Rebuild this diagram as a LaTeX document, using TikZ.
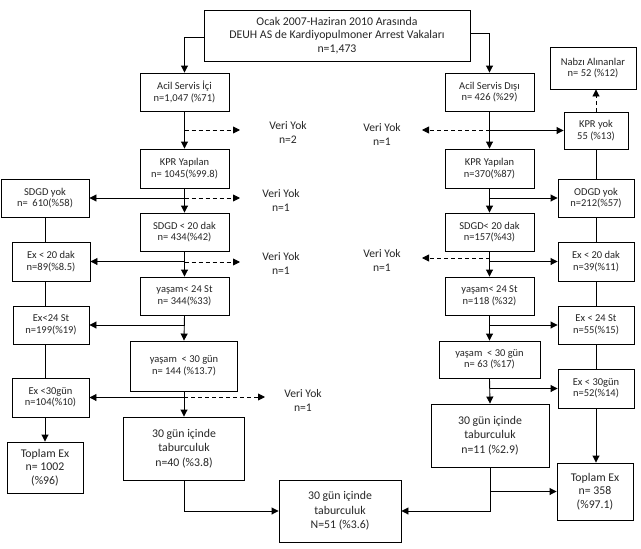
\documentclass[tikz,border=0pt]{standalone}
\usepackage{fontspec}
\setmainfont{Carlito}
\usetikzlibrary{arrows.meta,calc}
\tikzset{
  box/.style={draw=black, line width=0.9pt, fill=white, rectangle, inner sep=1pt, align=center, text=black!85},
  sm/.style={box, font=\fontsize{10.5}{11.5}\selectfont},
  bg/.style={box, font=\fontsize{11.8}{14.5}\selectfont},
  vy/.style={align=center, font=\fontsize{11.6}{14}\selectfont, text=black!85},
  arr/.style={line width=0.9pt, -{Triangle[length=7pt,width=7pt]}},
  ln/.style={line width=0.9pt},
  dsh/.style={line width=0.9pt, dash pattern=on 4pt off 3pt, -{Triangle[length=7pt,width=7pt]}}
}
\begin{document}
\begin{tikzpicture}[x=1pt,y=-1pt]
\useasboundingbox (0,0) rectangle (641,549);
% nodes
\node[bg, minimum width=266pt, minimum height=51pt, font=\fontsize{11.8}{13.6}\selectfont] (top) at (337,35.5) {Ocak 2007-Haziran 2010 Arasında\\DEUH AS de Kardiyopulmoner Arrest Vakaları\\n=1,473};
\node[sm, minimum width=89pt, minimum height=38pt] (L1) at (184.5,92) {Acil Servis İçi\\n=1,047 (\%71)};
\node[sm, minimum width=89pt, minimum height=38pt] (R1) at (489.5,92) {Acil Servis Dışı\\n= 426 (\%29)};
\node[sm, minimum width=86pt, minimum height=42pt] (nabzi) at (593,68) {Nabzı Alınanlar\\n= 52 (\%12)};
\node[sm, minimum width=64pt, minimum height=37pt] (kpryok) at (596,130.5) {KPR yok\\55 (\%13)};
\node[sm, minimum width=89pt, minimum height=39pt] (L2) at (184.5,168.5) {KPR Yapılan\\n= 1045(\%99.8)};
\node[sm, minimum width=89pt, minimum height=39pt] (R2) at (489.5,168.5) {KPR Yapılan\\n=370(\%87)};
\node[sm, minimum width=88pt, minimum height=38pt] (sdgdyok) at (45,198) {SDGD yok\\n= \ 610(\%58)};
\node[sm, minimum width=76pt, minimum height=38pt] (odgdyok) at (596,198) {ODGD yok\\n=212(\%57)};
\node[sm, minimum width=89pt, minimum height=38pt] (L3) at (184.5,232) {SDGD < 20 dak\\n= 434(\%42)};
\node[sm, minimum width=89pt, minimum height=38pt] (R3) at (489.5,232) {SDGD< 20 dak\\n=157(\%43)};
\node[sm, minimum width=78pt, minimum height=39pt] (lex20) at (51,261.5) {Ex < 20 dak\\n=89(\%8.5)};
\node[sm, minimum width=76pt, minimum height=39pt] (rex20) at (596,261.5) {Ex < 20 dak\\n=39(\%11)};
\node[sm, minimum width=89pt, minimum height=38pt] (L4) at (184.5,296) {yaşam< 24 St\\n= 344(\%33)};
\node[sm, minimum width=89pt, minimum height=38pt] (R4) at (489.5,296) {yaşam< 24 St\\n=118 (\%32)};
\node[sm, minimum width=76pt, minimum height=38pt] (lex24) at (51,325) {Ex<24 St\\n=199(\%19)};
\node[sm, minimum width=76pt, minimum height=38pt] (rex24) at (596,325) {Ex < 24 St\\n=55(\%15)};
\node[sm, minimum width=107pt, minimum height=50pt] (L5) at (184,366) {yaşam \ < 30 gün\\n= 144 (\%13.7)};
\node[sm, minimum width=101pt, minimum height=37pt] (R5) at (489.5,359.5) {yaşam \ < 30 gün\\n= 63 (\%17)};
\node[sm, minimum width=77pt, minimum height=39pt] (lex30) at (50.5,397.5) {Ex <30gün\\n=104(\%10)};
\node[sm, minimum width=76pt, minimum height=39pt] (rex30) at (596,388.5) {Ex < 30gün\\n=52(\%14)};
\node[bg, minimum width=121pt, minimum height=63pt] (L6) at (184,448.5) {30 gün içinde\\taburculuk\\n=40 (\%3.8)};
\node[bg, minimum width=118pt, minimum height=63pt] (R6) at (490,435.5) {30 gün içinde\\taburculuk\\n=11 (\%2.9)};
\node[bg, minimum width=76pt, minimum height=51pt, font=\fontsize{11.8}{13.6}\selectfont] (ltop) at (45,467.5) {Toplam Ex\\n= 1002\\(\%96)};
\node[bg, minimum width=76pt, minimum height=57pt, font=\fontsize{11.8}{13.6}\selectfont] (rtop) at (595,491.5) {Toplam Ex\\n= 358\\(\%97.1)};
\node[bg, minimum width=122pt, minimum height=62pt] (ctr) at (340,511) {30 gün içinde\\taburculuk\\N=51 (\%3.6)};
% Veri Yok labels
\node[vy] (vyl1) at (288,132) {Veri Yok\\n=2};
\node[vy] (vyr1) at (382,134) {Veri Yok\\n=1};
\node[vy] (vyl2) at (281,200) {Veri Yok\\n=1};
\node[vy] (vyl3) at (281,263) {Veri Yok\\n=1};
\node[vy] (vyr3) at (382,260) {Veri Yok\\n=1};
\node[vy] (vyl4) at (303,400) {Veri Yok\\n=1};
\coordinate (dl1) at (240,130);
\coordinate (dr1) at (422,130);
\coordinate (dl2) at (240,198);
\coordinate (dl3) at (240,262);
\coordinate (dr3) at (422,258);
\coordinate (dl4) at (265,397);
% top connectors
\draw[arr] ([yshift=-1.5pt]top.west) -| (L1.north);
\draw[arr] ([yshift=2.5pt]top.east) -| (R1.north);
% left main column
\draw[arr] (L1.south) -- (L2.north);
\draw[dsh] (L1.south |- dl1) -- (dl1);
\draw[arr] (L2.south) -- (L3.north);
\draw[arr] (L2.south |- sdgdyok.east) -- (sdgdyok.east);
\draw[dsh] (L2.south |- dl2) -- (dl2);
\draw[arr] (L3.south) -- (L4.north);
\draw[arr] (L3.south |- lex20.east) -- (lex20.east);
\draw[dsh] (L3.south |- dl3) -- (dl3);
\draw[arr] (L4.south) -- (L5.north);
\draw[arr] (L4.south |- lex24.east) -- (lex24.east);
\draw[arr] (L5.south) -- (L6.north);
\draw[arr] (L5.south |- lex30.east) -- (lex30.east);
\draw[dsh] (L5.south |- dl4) -- (dl4);
\draw[arr] (L6.south) |- (ctr.west);
% left side column
\draw[ln] (sdgdyok.south) -- (sdgdyok.south |- lex20.north);
\draw[ln] (sdgdyok.south |- lex20.south) -- (sdgdyok.south |- lex24.north);
\draw[ln] (sdgdyok.south |- lex24.south) -- (sdgdyok.south |- lex30.north);
\draw[arr] (sdgdyok.south |- lex30.south) -- (ltop.north);
% right main column
\draw[arr] (R1.south) -- (R2.north);
\draw[arr] (R1.south |- kpryok.west) -- (kpryok.west);
\draw[dsh] (R1.south |- dr1) -- (dr1);
\draw[arr] (R2.south) -- (R3.north);
\draw[arr] (R2.south |- odgdyok.west) -- (odgdyok.west);
\draw[arr] (R3.south) -- (R4.north);
\draw[arr] (R3.south |- rex20.west) -- (rex20.west);
\draw[dsh] (R3.south |- dr3) -- (dr3);
\draw[arr] (R4.south) -- (R5.north);
\draw[arr] (R4.south |- rex24.west) -- (rex24.west);
\draw[arr] (R5.south) -- (R6.north);
\draw[arr] (R5.south |- rex30.west) -- (rex30.west);
\draw[arr] (R6.south) |- (ctr.east);
\draw[arr] (R6.south |- rtop.west) -- (rtop.west);
% right side column
\draw[dsh] (kpryok.north) -- (kpryok.north |- nabzi.south);
\draw[ln] (kpryok.south) -- (odgdyok.north);
\draw[ln] (odgdyok.south) -- (rex20.north);
\draw[ln] (rex20.south) -- (rex24.north);
\draw[ln] (rex24.south) -- (rex30.north);
\draw[arr] (rex30.south) -- (rex30.south |- rtop.north);
\end{tikzpicture}
\end{document}
